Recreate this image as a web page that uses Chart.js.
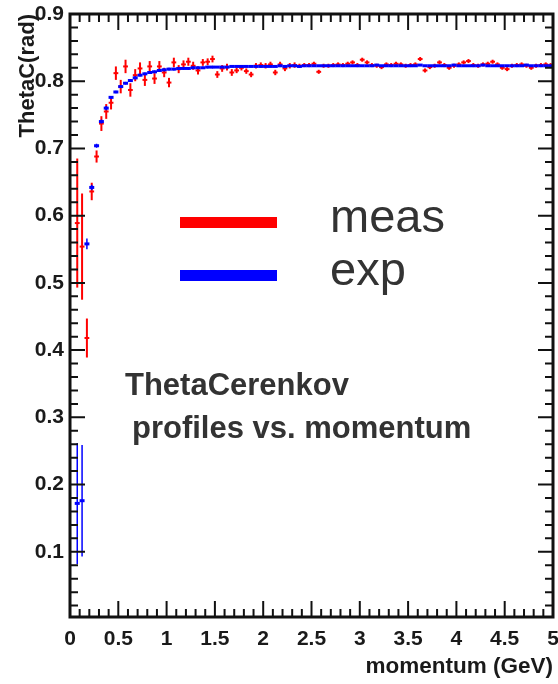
<!DOCTYPE html>
<html>
<head>
<meta charset="utf-8">
<script src="https://cdn.jsdelivr.net/npm/chart.js@4.4.1/dist/chart.umd.min.js"></script>
<style>
  html, body { margin: 0; padding: 0; background: #fff; overflow: hidden; }
  #wrap { width: 558px; height: 684px; overflow: hidden; }
</style>
</head>
<body>
<div id="wrap"><canvas id="profChart" width="560" height="684"></canvas></div>
<script>
// bin centres in GeV (0.05 wide bins)
var momentum = [
  0.025, 0.075, 0.125, 0.175, 0.225, 0.275, 0.325, 0.375, 0.425, 0.475,
  0.525, 0.575, 0.625, 0.675, 0.725, 0.775, 0.825, 0.875, 0.925, 0.975,
  1.025, 1.075, 1.125, 1.175, 1.225, 1.275, 1.325, 1.375, 1.425, 1.475,
  1.525, 1.575, 1.625, 1.675, 1.725, 1.775, 1.825, 1.875, 1.925, 1.975,
  2.025, 2.075, 2.125, 2.175, 2.225, 2.275, 2.325, 2.375, 2.425, 2.475,
  2.525, 2.575, 2.625, 2.675, 2.725, 2.775, 2.825, 2.875, 2.925, 2.975,
  3.025, 3.075, 3.125, 3.175, 3.225, 3.275, 3.325, 3.375, 3.425, 3.475,
  3.525, 3.575, 3.625, 3.675, 3.725, 3.775, 3.825, 3.875, 3.925, 3.975,
  4.025, 4.075, 4.125, 4.175, 4.225, 4.275, 4.325, 4.375, 4.425, 4.475,
  4.525, 4.575, 4.625, 4.675, 4.725, 4.775, 4.825, 4.875, 4.925, 4.975
];

// measured ThetaC profile (rad)
var measVals = [
  null, 0.589, 0.554, 0.418, 0.636, 0.688, 0.737, 0.755, 0.768, 0.812,
  0.792, 0.822, 0.787, 0.809, 0.819, 0.802, 0.822, 0.804, 0.822, 0.813,
  0.798, 0.828, 0.818, 0.825, 0.829, 0.823, 0.816, 0.828, 0.829, 0.833,
  0.810, 0.819, 0.821, 0.813, 0.816, 0.820, 0.815, 0.810, 0.823, 0.824,
  0.823, 0.825, 0.813, 0.825, 0.819, 0.823, 0.824, 0.823, 0.824, 0.824,
  0.826, 0.814, 0.823, 0.823, 0.824, 0.825, 0.824, 0.826, 0.828, 0.824,
  0.832, 0.828, 0.824, 0.823, 0.821, 0.825, 0.824, 0.826, 0.825, 0.823,
  0.824, 0.825, 0.833, 0.816, 0.821, 0.823, 0.828, 0.824, 0.820, 0.823,
  0.825, 0.828, 0.830, 0.824, 0.823, 0.825, 0.826, 0.829, 0.825, 0.820,
  0.818, 0.823, 0.824, 0.825, 0.823, 0.820, 0.823, 0.824, 0.825, 0.824
];
var measErr = [
  null, 0.096, 0.079, 0.029, 0.013, 0.009, 0.011, 0.011, 0.010, 0.010,
  0.010, 0.010, 0.010, 0.009, 0.009, 0.009, 0.008, 0.008, 0.008, 0.007,
  0.007, 0.007, 0.006, 0.006, 0.006, 0.006, 0.006, 0.005, 0.005, 0.005,
  0.005, 0.005, 0.005, 0.005, 0.004, 0.004, 0.004, 0.004, 0.004, 0.004,
  0.004, 0.004, 0.004, 0.004, 0.004, 0.004, 0.004, 0.003, 0.003, 0.003,
  0.003, 0.003, 0.003, 0.003, 0.003, 0.003, 0.003, 0.003, 0.003, 0.003,
  0.003, 0.003, 0.003, 0.003, 0.003, 0.003, 0.003, 0.003, 0.003, 0.003,
  0.003, 0.003, 0.003, 0.003, 0.003, 0.003, 0.003, 0.003, 0.003, 0.003,
  0.003, 0.003, 0.003, 0.003, 0.003, 0.003, 0.003, 0.003, 0.003, 0.003,
  0.003, 0.003, 0.003, 0.003, 0.003, 0.003, 0.003, 0.003, 0.003, 0.003
];

// expected ThetaC profile (rad)
var expVals = [
  null, 0.172, 0.176, 0.558, 0.642, 0.704, 0.740, 0.760, 0.776, 0.784,
  0.792, 0.797, 0.801, 0.805, 0.809, 0.811, 0.813, 0.814, 0.816, 0.817,
  0.818, 0.818, 0.819, 0.819, 0.819, 0.820, 0.820, 0.820, 0.821, 0.821,
  0.821, 0.821, 0.821, 0.822, 0.822, 0.822, 0.822, 0.822, 0.822, 0.822,
  0.822, 0.822, 0.822, 0.823, 0.822, 0.823, 0.823, 0.822, 0.823, 0.823,
  0.823, 0.823, 0.823, 0.823, 0.823, 0.823, 0.823, 0.823, 0.823, 0.823,
  0.823, 0.823, 0.823, 0.824, 0.823, 0.823, 0.823, 0.823, 0.823, 0.823,
  0.823, 0.823, 0.824, 0.823, 0.823, 0.823, 0.823, 0.823, 0.823, 0.824,
  0.823, 0.823, 0.823, 0.823, 0.823, 0.824, 0.823, 0.823, 0.823, 0.823,
  0.823, 0.823, 0.823, 0.823, 0.824, 0.823, 0.823, 0.823, 0.823, 0.823
];
var expErr = [
  null, 0.090, 0.083, 0.008, 0.004, 0.003, 0.003, 0.003, 0.002, 0.002,
  0.002, 0.002, 0.002, 0.002, 0.002, 0.002, 0.002, 0.002, 0.002, 0.002,
  0.002, 0.002, 0.002, 0.002, 0.002, 0.002, 0.002, 0.002, 0.002, 0.002,
  0.001, 0.001, 0.001, 0.001, 0.001, 0.001, 0.001, 0.001, 0.001, 0.001,
  0.001, 0.001, 0.001, 0.001, 0.001, 0.001, 0.001, 0.001, 0.001, 0.001,
  0.001, 0.001, 0.001, 0.001, 0.001, 0.001, 0.001, 0.001, 0.001, 0.001,
  0.001, 0.001, 0.001, 0.001, 0.001, 0.001, 0.001, 0.001, 0.001, 0.001,
  0.001, 0.001, 0.001, 0.001, 0.001, 0.001, 0.001, 0.001, 0.001, 0.001,
  0.001, 0.001, 0.001, 0.001, 0.001, 0.001, 0.001, 0.001, 0.001, 0.001,
  0.001, 0.001, 0.001, 0.001, 0.001, 0.001, 0.001, 0.001, 0.001, 0.001
];

// axis labels
var xTicks = [0, 0.5, 1, 1.5, 2, 2.5, 3, 3.5, 4, 4.5, 5];
var yTicks = [0.1, 0.2, 0.3, 0.4, 0.5, 0.6, 0.7, 0.8, 0.9];

function toPoints(vals) {
  var pts = [];
  for (var i = 0; i < momentum.length; i++) {
    if (vals[i] !== null) pts.push({ x: momentum[i], y: vals[i], i: i });
  }
  return pts;
}

var labelFont = { family: 'Liberation Sans', size: 21, weight: 'bold' };

// vertical error bars, drawn under each dataset's markers
var errorBars = {
  id: 'errorBars',
  beforeDatasetDraw: function (chart, args) {
    var ds = chart.data.datasets[args.index];
    if (!ds.errors) return;
    var ctx = chart.ctx, a = chart.chartArea;
    var ys = chart.scales.y;
    ctx.save();
    ctx.beginPath();
    ctx.rect(a.left, a.top, a.width, a.height);
    ctx.clip();
    ctx.strokeStyle = ds.borderColor;
    ctx.lineWidth = ds.errorWidth;
    args.meta.data.forEach(function (el, k) {
      var p = ds.data[k];
      var e = ds.errors[p.i];
      if (!e) return;
      ctx.beginPath();
      ctx.moveTo(el.x, ys.getPixelForValue(p.y - e));
      ctx.lineTo(el.x, ys.getPixelForValue(p.y + e));
      ctx.stroke();
    });
    ctx.restore();
  }
};

// ROOT style frame with inward ticks on all four sides
var frameTicks = {
  id: 'frameTicks',
  afterDatasetsDraw: function (chart) {
    var ctx = chart.ctx, a = chart.chartArea;
    var xs = chart.scales.x, ys = chart.scales.y;
    ctx.save();
    ctx.strokeStyle = '#111';
    ctx.lineWidth = 2;
    ctx.beginPath();
    for (var k = 0; k <= 50; k++) {
      var px = xs.getPixelForValue(k / 10);
      var len = (k % 5 === 0) ? 16 : 8;
      ctx.moveTo(px, a.bottom); ctx.lineTo(px, a.bottom - len);
      ctx.moveTo(px, a.top); ctx.lineTo(px, a.top + len);
    }
    for (var j = 1; j <= 45; j++) {
      var py = ys.getPixelForValue(j / 50);
      var ln = (j % 5 === 0) ? 15 : 8;
      ctx.moveTo(a.left, py); ctx.lineTo(a.left + ln, py);
      ctx.moveTo(a.right, py); ctx.lineTo(a.right - ln, py);
    }
    ctx.stroke();
    ctx.lineWidth = 3;
    ctx.strokeRect(a.left, a.top, a.width, a.height);
    ctx.restore();
  }
};

// legend boxes and the annotation text
var overlay = {
  id: 'overlay',
  afterDraw: function (chart) {
    var ctx = chart.ctx;
    ctx.save();
    var rows = [[chart.data.datasets[0], 222], [chart.data.datasets[1], 275]];
    rows.forEach(function (r) {
      ctx.fillStyle = r[0].borderColor;
      ctx.fillRect(180, r[1] - 5, 97, 11);
      ctx.fillStyle = '#333';
      ctx.font = '47px "Liberation Sans"';
      ctx.textBaseline = 'middle';
      ctx.fillText(r[0].label, 330, r[1] - 3);
    });
    ctx.font = 'bold 31px "Liberation Sans"';
    ctx.textBaseline = 'alphabetic';
    ctx.fillStyle = '#333';
    ctx.fillText('ThetaCerenkov', 125, 395);
    ctx.fillText('profiles vs. momentum', 132, 438);
    ctx.restore();
  }
};

var ctx = document.getElementById('profChart').getContext('2d');
var chart = new Chart(ctx, {
  type: 'scatter',
  data: {
    datasets: [
      {
        label: 'meas',
        data: toPoints(measVals),
        errors: measErr,
        errorWidth: 2,
        borderColor: 'rgb(255, 0, 0)',
        backgroundColor: 'rgb(255, 0, 0)',
        pointStyle: 'line',
        pointRadius: 2.4,
        pointBorderWidth: 2,
        order: 2
      },
      {
        label: 'exp',
        data: toPoints(expVals),
        errors: expErr,
        errorWidth: 1.5,
        borderColor: 'rgb(0, 0, 255)',
        backgroundColor: 'rgb(0, 0, 255)',
        pointStyle: 'line',
        pointRadius: 2.5,
        pointBorderWidth: 3,
        order: 1
      }
    ]
  },
  options: {
    responsive: false,
    animation: false,
    events: [],
    layout: { padding: { top: 14, right: 3, left: 0, bottom: 0 } },
    plugins: {
      legend: { display: false },
      tooltip: { enabled: false }
    },
    scales: {
      x: {
        type: 'linear',
        min: 0,
        max: 5,
        afterFit: function (scale) {
          scale.height = 67;
          scale.paddingLeft = 0;
          scale.paddingRight = 0;
        },
        afterBuildTicks: function (scale) {
          scale.ticks = xTicks.map(function (v) { return { value: v }; });
        },
        grid: { display: false, drawTicks: false },
        border: { display: false },
        ticks: {
          font: labelFont,
          color: '#1a1a1a',
          padding: 10,
          maxRotation: 0,
          callback: function (v) { return String(v); }
        },
        title: {
          display: true,
          text: 'momentum (GeV)',
          align: 'end',
          color: '#1a1a1a',
          font: { family: 'Liberation Sans', size: 22.5, weight: 'bold' },
          padding: { top: 0, bottom: 4 }
        }
      },
      y: {
        type: 'linear',
        min: 0.003,
        max: 0.9,
        afterFit: function (scale) {
          scale.width = 70;
          scale.paddingTop = 0;
          scale.paddingBottom = 0;
        },
        afterBuildTicks: function (scale) {
          scale.ticks = yTicks.map(function (v) { return { value: v }; });
        },
        grid: { display: false, drawTicks: false },
        border: { display: false },
        ticks: {
          font: labelFont,
          color: '#1a1a1a',
          padding: 6,
          callback: function (v) { return v.toFixed(1); }
        },
        title: {
          display: true,
          text: 'ThetaC(rad)',
          align: 'end',
          color: '#1a1a1a',
          font: { family: 'Liberation Sans', size: 22, weight: 'bold' },
          padding: { top: 15, bottom: 0 }
        }
      }
    }
  },
  plugins: [errorBars, frameTicks, overlay]
});
</script>
</body>
</html>
